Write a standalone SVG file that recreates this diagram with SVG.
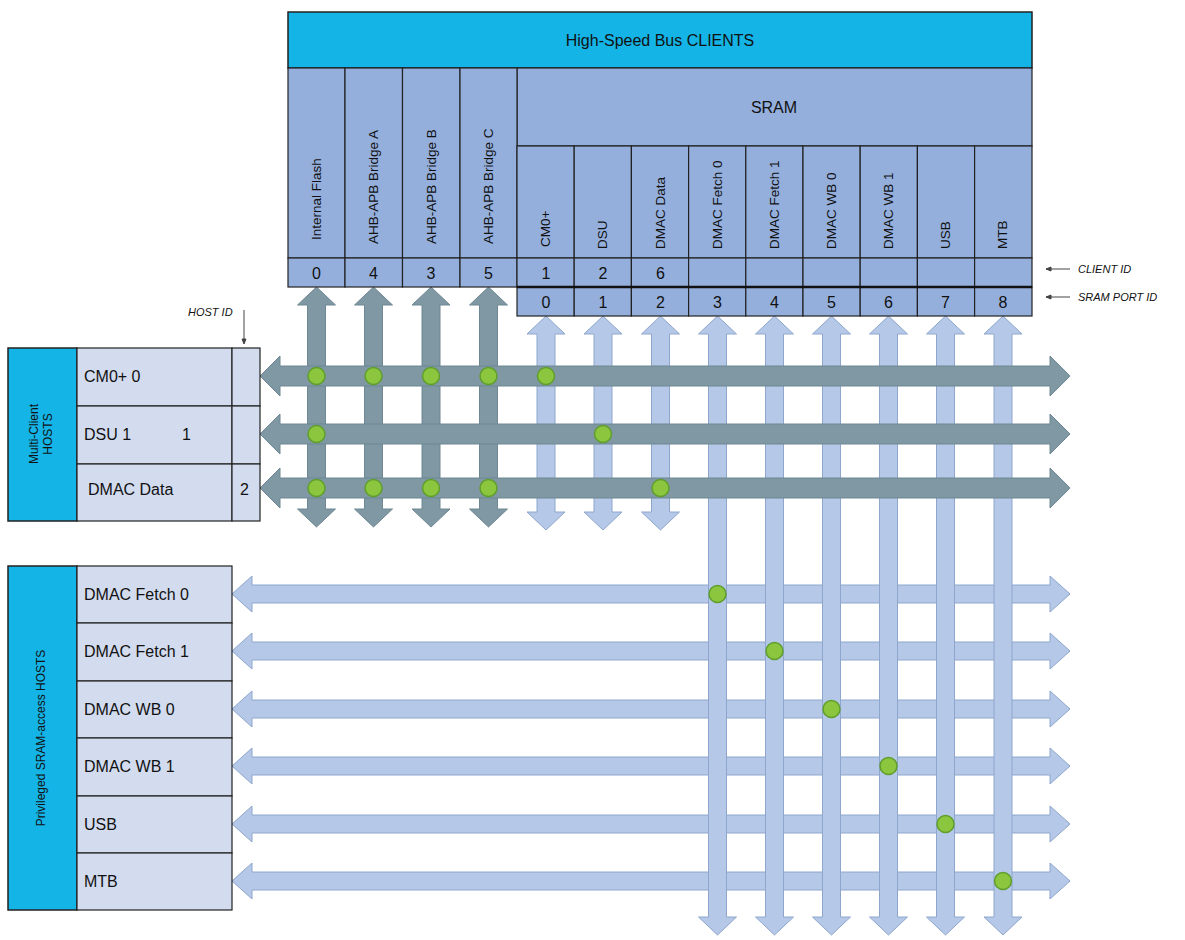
<svg xmlns="http://www.w3.org/2000/svg" width="1185" height="940" viewBox="0 0 1185 940">
<style>
text{font-family:"Liberation Sans",Arial,sans-serif;fill:#111}
.hdr{fill:#14b4e6;stroke:#222;stroke-width:1.5}
.cell{fill:#94afdc;stroke:#222;stroke-width:1.2}
.host{fill:#d3dcef;stroke:#222;stroke-width:1.2}
.dk{fill:#7f98a3;stroke:#6f8893;stroke-width:1}
.lt{fill:#b5c8e8;stroke:#8ea6cc;stroke-width:1}
.dot{fill:#8cc63f;stroke:#5f9e2c;stroke-width:1.5}
.v{font-size:13.5px}
.n{font-size:16px;text-anchor:middle}
.lab{font-size:11px;font-style:italic}
</style>
<defs>
<path id="vd" d="M0,0 L19,18 L9,18 L9,222 L19,222 L0,240 L-19,222 L-9,222 L-9,18 L-19,18 Z"/>
<path id="vl3" d="M0,0 L19,18 L9,18 L9,196 L19,196 L0,214 L-19,196 L-9,196 L-9,18 L-19,18 Z"/>
<path id="vlL" d="M0,0 L19,18 L9,18 L9,601 L19,601 L0,619 L-19,601 L-9,601 L-9,18 L-19,18 Z"/>
<path id="hd" d="M0,0 L20,-20 L20,-10 L790,-10 L790,-20 L810,0 L790,20 L790,10 L20,10 L20,20 Z"/>
<path id="hl" d="M0,0 L20,-18 L20,-9 L818,-9 L818,-18 L838,0 L818,18 L818,9 L20,9 L20,18 Z"/>
</defs>
<g id="connectors">
<use href="#vd" class="dk" x="316.5" y="287"/>
<use href="#vd" class="dk" x="373.5" y="287"/>
<use href="#vd" class="dk" x="431" y="287"/>
<use href="#vd" class="dk" x="488.5" y="287"/>
<use href="#vl3" class="lt" x="546" y="316"/>
<use href="#vl3" class="lt" x="603" y="316"/>
<use href="#vl3" class="lt" x="660.5" y="316"/>
<use href="#hl" class="lt" x="232" y="594"/>
<use href="#hl" class="lt" x="232" y="651"/>
<use href="#hl" class="lt" x="232" y="709"/>
<use href="#hl" class="lt" x="232" y="766"/>
<use href="#hl" class="lt" x="232" y="824"/>
<use href="#hl" class="lt" x="232" y="881"/>
<use href="#vlL" class="lt" x="717.5" y="316"/>
<use href="#vlL" class="lt" x="774.5" y="316"/>
<use href="#vlL" class="lt" x="831.5" y="316"/>
<use href="#vlL" class="lt" x="888.5" y="316"/>
<use href="#vlL" class="lt" x="945.5" y="316"/>
<use href="#vlL" class="lt" x="1003" y="316"/>
<use href="#hd" class="dk" x="260" y="376"/>
<use href="#hd" class="dk" x="260" y="434"/>
<use href="#hd" class="dk" x="260" y="488"/>
</g>
<g id="dots">
<circle class="dot" cx="316.5" cy="376" r="8.5"/><circle class="dot" cx="373.5" cy="376" r="8.5"/><circle class="dot" cx="431" cy="376" r="8.5"/><circle class="dot" cx="488.5" cy="376" r="8.5"/><circle class="dot" cx="546" cy="376" r="8.5"/>
<circle class="dot" cx="316.5" cy="434" r="8.5"/><circle class="dot" cx="603" cy="434" r="8.5"/>
<circle class="dot" cx="316.5" cy="488" r="8.5"/><circle class="dot" cx="373.5" cy="488" r="8.5"/><circle class="dot" cx="431" cy="488" r="8.5"/><circle class="dot" cx="488.5" cy="488" r="8.5"/><circle class="dot" cx="660.5" cy="488" r="8.5"/>
<circle class="dot" cx="717.5" cy="594" r="8.5"/><circle class="dot" cx="774.5" cy="651" r="8.5"/><circle class="dot" cx="831.5" cy="709" r="8.5"/><circle class="dot" cx="888.5" cy="766" r="8.5"/><circle class="dot" cx="945.5" cy="824" r="8.5"/><circle class="dot" cx="1003" cy="881" r="8.5"/>
</g>
<g id="clients">
<rect class="hdr" x="288" y="12" width="744" height="56"/>
<text x="660" y="46" font-size="16" text-anchor="middle">High-Speed Bus CLIENTS</text>
<rect class="cell" x="517" y="68" width="515" height="78"/>
<text x="774" y="113" font-size="16" text-anchor="middle">SRAM</text>
<g class="cols">
<rect class="cell" x="288" y="68" width="57" height="190"/><rect class="cell" x="345" y="68" width="57.5" height="190"/><rect class="cell" x="402.5" y="68" width="57.5" height="190"/><rect class="cell" x="460" y="68" width="57" height="190"/>
<rect class="cell" x="288" y="258" width="57" height="29"/><rect class="cell" x="345" y="258" width="57.5" height="29"/><rect class="cell" x="402.5" y="258" width="57.5" height="29"/><rect class="cell" x="460" y="258" width="57" height="29"/>
</g>
<text class="v" transform="translate(321,240) rotate(-90)">Internal Flash</text>
<text class="v" transform="translate(378,244) rotate(-90)">AHB-APB Bridge A</text>
<text class="v" transform="translate(435.5,244) rotate(-90)">AHB-APB Bridge B</text>
<text class="v" transform="translate(493,244) rotate(-90)">AHB-APB Bridge C</text>
<g>
<rect class="cell" x="517" y="146" width="57.2" height="112"/><rect class="cell" x="574.2" y="146" width="57.2" height="112"/><rect class="cell" x="631.4" y="146" width="57.2" height="112"/><rect class="cell" x="688.6" y="146" width="57.2" height="112"/><rect class="cell" x="745.8" y="146" width="57.2" height="112"/><rect class="cell" x="803" y="146" width="57.2" height="112"/><rect class="cell" x="860.2" y="146" width="57.2" height="112"/><rect class="cell" x="917.4" y="146" width="57.2" height="112"/><rect class="cell" x="974.6" y="146" width="57.4" height="112"/>
<rect class="cell" x="517" y="258" width="57.2" height="29"/><rect class="cell" x="574.2" y="258" width="57.2" height="29"/><rect class="cell" x="631.4" y="258" width="57.2" height="29"/><rect class="cell" x="688.6" y="258" width="57.2" height="29"/><rect class="cell" x="745.8" y="258" width="57.2" height="29"/><rect class="cell" x="803" y="258" width="57.2" height="29"/><rect class="cell" x="860.2" y="258" width="57.2" height="29"/><rect class="cell" x="917.4" y="258" width="57.2" height="29"/><rect class="cell" x="974.6" y="258" width="57.4" height="29"/>
<rect class="cell" x="517" y="287" width="57.2" height="29"/><rect class="cell" x="574.2" y="287" width="57.2" height="29"/><rect class="cell" x="631.4" y="287" width="57.2" height="29"/><rect class="cell" x="688.6" y="287" width="57.2" height="29"/><rect class="cell" x="745.8" y="287" width="57.2" height="29"/><rect class="cell" x="803" y="287" width="57.2" height="29"/><rect class="cell" x="860.2" y="287" width="57.2" height="29"/><rect class="cell" x="917.4" y="287" width="57.2" height="29"/><rect class="cell" x="974.6" y="287" width="57.4" height="29"/>
<line x1="517" y1="287" x2="1032" y2="287" stroke="#111" stroke-width="2.5"/>
</g>
<text class="v" transform="translate(550,247) rotate(-90)">CM0+</text>
<text class="v" transform="translate(607,249) rotate(-90)">DSU</text>
<text class="v" transform="translate(664.5,249) rotate(-90)">DMAC Data</text>
<text class="v" transform="translate(722,249) rotate(-90)">DMAC Fetch 0</text>
<text class="v" transform="translate(779,249) rotate(-90)">DMAC Fetch 1</text>
<text class="v" transform="translate(836,249) rotate(-90)">DMAC WB 0</text>
<text class="v" transform="translate(893,249) rotate(-90)">DMAC WB 1</text>
<text class="v" transform="translate(950,249) rotate(-90)">USB</text>
<text class="v" transform="translate(1007,249) rotate(-90)">MTB</text>
<text class="n" x="316.5" y="279">0</text><text class="n" x="373.5" y="279">4</text><text class="n" x="431" y="279">3</text><text class="n" x="488.5" y="279">5</text>
<text class="n" x="546" y="279">1</text><text class="n" x="603" y="279">2</text><text class="n" x="660.5" y="279">6</text>
<text class="n" x="546" y="308">0</text><text class="n" x="603" y="308">1</text><text class="n" x="660.5" y="308">2</text><text class="n" x="717.5" y="308">3</text><text class="n" x="774.5" y="308">4</text><text class="n" x="831.5" y="308">5</text><text class="n" x="888.5" y="308">6</text><text class="n" x="945.5" y="308">7</text><text class="n" x="1003" y="308">8</text>
</g>
<g id="labels" stroke="#444" stroke-width="1">
<line x1="1046" y1="269" x2="1070" y2="269"/><line x1="1046" y1="297" x2="1070" y2="297"/>
<line x1="244" y1="310" x2="244" y2="342"/>
<path d="M1046,269 l5,-2 v4z M1046,297 l5,-2 v4z M244,344 l-2,-5 h4z" fill="#444"/>
</g>
<text class="lab" x="1078" y="273">CLIENT ID</text>
<text class="lab" x="1078" y="301">SRAM PORT ID</text>
<text class="lab" x="188" y="316">HOST ID</text>
<g id="multi-client-hosts">
<rect class="hdr" x="8" y="348" width="69" height="173"/>
<text font-size="12" text-anchor="middle" transform="translate(38,434) rotate(-90)">Multi-Client</text>
<text font-size="12" text-anchor="middle" transform="translate(52,434) rotate(-90)">HOSTS</text>
<rect class="host" x="77" y="348" width="155" height="58"/><rect class="host" x="232" y="348" width="28" height="58"/>
<rect class="host" x="77" y="406" width="155" height="58"/><rect class="host" x="232" y="406" width="28" height="58"/>
<rect class="host" x="77" y="464" width="155" height="57"/><rect class="host" x="232" y="464" width="28" height="57"/>
<text x="84" y="382" font-size="16">CM0+ 0</text>
<text x="84" y="440" font-size="16">DSU 1</text><text x="182" y="440" font-size="16">1</text>
<text x="88" y="495" font-size="16">DMAC Data</text><text x="240" y="495" font-size="16">2</text>
</g>
<g id="privileged-hosts">
<rect class="hdr" x="8" y="566" width="69" height="344"/>
<text font-size="12" text-anchor="middle" transform="translate(45,738) rotate(-90)">Privileged SRAM-access HOSTS</text>
<rect class="host" x="77" y="566" width="155" height="57"/>
<rect class="host" x="77" y="623" width="155" height="58"/>
<rect class="host" x="77" y="681" width="155" height="57"/>
<rect class="host" x="77" y="738" width="155" height="58"/>
<rect class="host" x="77" y="796" width="155" height="57"/>
<rect class="host" x="77" y="853" width="155" height="57"/>
<text x="84" y="600" font-size="16">DMAC Fetch 0</text>
<text x="84" y="657" font-size="16">DMAC Fetch 1</text>
<text x="84" y="715" font-size="16">DMAC WB 0</text>
<text x="84" y="772" font-size="16">DMAC WB 1</text>
<text x="84" y="830" font-size="16">USB</text>
<text x="84" y="887" font-size="16">MTB</text>
</g>
</svg>
